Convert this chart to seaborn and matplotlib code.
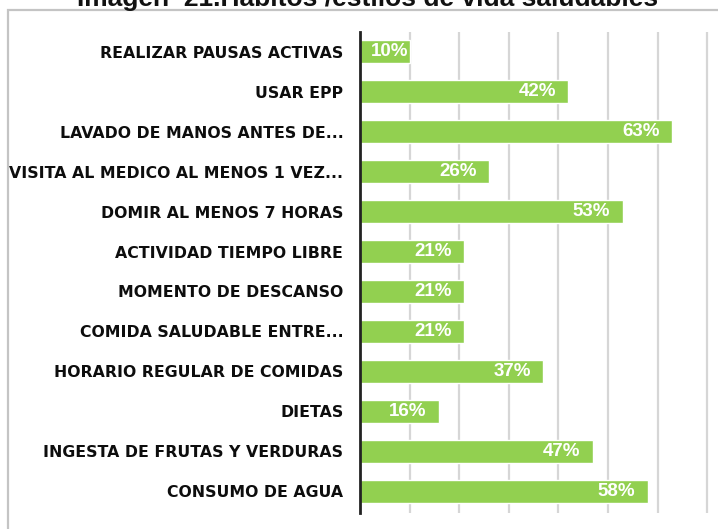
import matplotlib
matplotlib.use("Agg")
import matplotlib.pyplot as plt
import seaborn as sns
import pandas as pd
from matplotlib.patches import Rectangle

categories = [
    "REALIZAR PAUSAS ACTIVAS",
    "USAR EPP",
    "LAVADO DE MANOS ANTES DE...",
    "VISITA AL MEDICO AL MENOS 1 VEZ...",
    "DOMIR AL MENOS 7 HORAS",
    "ACTIVIDAD TIEMPO LIBRE",
    "MOMENTO DE DESCANSO",
    "COMIDA SALUDABLE ENTRE...",
    "HORARIO REGULAR DE COMIDAS",
    "DIETAS",
    "INGESTA DE FRUTAS Y VERDURAS",
    "CONSUMO DE AGUA",
]
values = [0.10, 0.42, 0.63, 0.26, 0.53, 0.21, 0.21, 0.21, 0.37, 0.16, 0.47, 0.58]
value_labels = ["10%", "42%", "63%", "26%", "53%", "21%", "21%", "21%", "37%", "16%", "47%", "58%"]
title = "Imagen  21.Habitos /estilos de vida saludables"

df = pd.DataFrame({"cat": categories, "val": values})

sns.set_theme(style="white")
W, H = 718, 529
fig = plt.figure(figsize=(W / 100, H / 100), dpi=100)

# frame of the chart area
frame = Rectangle((8 / W, -0.1), 1.2, (H - 10) / H + 0.1, transform=fig.transFigure,
                  facecolor="white", edgecolor="#C4C4C4", linewidth=1.6, zorder=-10)
fig.patches.append(frame)

ax = fig.add_axes([360 / W, 1 - 513 / H, 1 - 360 / W, (513 - 32) / H])
ax.set_zorder(1)
ax.set_facecolor("none")
sns.barplot(data=df, x="val", y="cat", orient="h", color="#92D050", saturation=1,
            width=0.58, ax=ax, zorder=3)

ax.set_xlim(0, 0.722)
ax.set_ylim(11.54, -0.49)
ax.set_xticks([0.1, 0.2, 0.3, 0.4, 0.5, 0.6, 0.7])
ax.set_xticklabels([])
ax.grid(axis="x", color="#D6D6D6", linewidth=1.6, zorder=0)
ax.grid(axis="y", visible=False)
ax.tick_params(axis="both", length=0)
ax.tick_params(axis="y", pad=12)
ax.set_xlabel("")
ax.set_ylabel("")
for s in ["top", "right", "bottom"]:
    ax.spines[s].set_visible(False)
ax.spines["left"].set_color("#222222")
ax.spines["left"].set_linewidth(2)
ax.spines["left"].set_zorder(5)

for lab in ax.get_yticklabels():
    lab.set_fontfamily("DejaVu Sans")
    lab.set_fontweight("bold")
    lab.set_fontsize(11.3)
    lab.set_color("#0d0d0d")

for i, (v, t) in enumerate(zip(values, value_labels)):
    off = -9 if v >= 0.15 else -1
    ax.annotate(t, xy=(v, i), xytext=(off, 0), textcoords="offset points",
                ha="right", va="center", color="white", fontsize=13.5,
                fontweight="bold", family="Liberation Sans", zorder=6)

fig.text(368 / W, 1 - 6 / H, title, ha="center", va="baseline", fontsize=19,
         fontweight="bold", family="Liberation Sans", color="#111111")

fig.savefig("out.png", dpi=100)
